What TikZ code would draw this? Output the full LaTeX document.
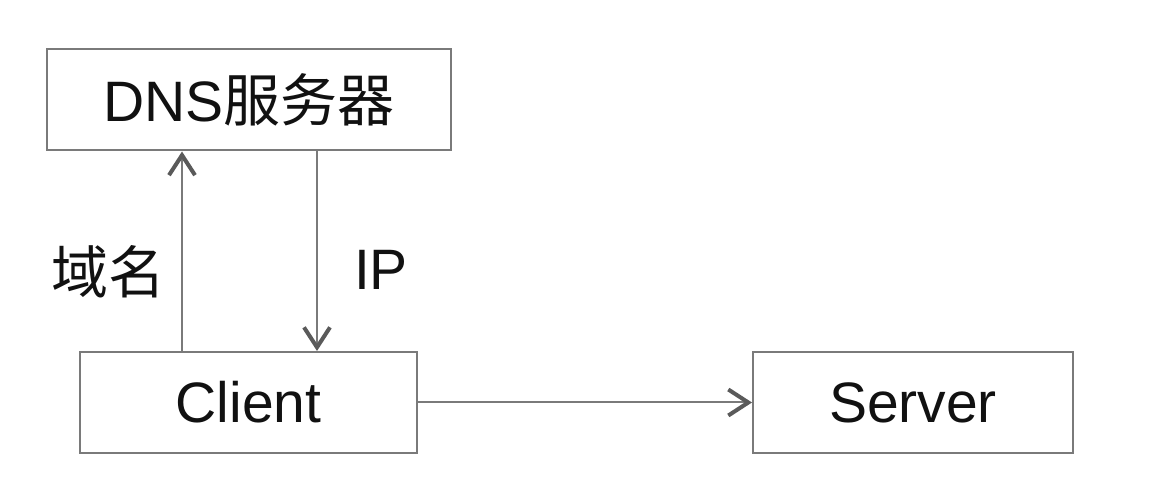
\documentclass[tikz,border=0pt]{standalone}
\usepackage{fontspec}
\setmainfont{Liberation Sans}
\newfontfamily\cjk{Noto Sans CJK SC}
\usetikzlibrary{arrows.meta}
\definecolor{linegray}{HTML}{7A7A7A}
\definecolor{tipgray}{HTML}{5A5A5A}
\definecolor{txt}{HTML}{111111}
\tikzset{
  box/.style={draw=linegray, line width=2pt, minimum height=101pt, inner sep=0pt, text=txt, font=\fontsize{57}{64}\selectfont},
  conn/.style={draw=linegray, line width=2pt, -{Straight Barb[length=20pt, width=26pt, line width=4pt, color=tipgray]}},
  lbl/.style={text=txt, font=\fontsize{57}{64}\selectfont, inner sep=0pt}
}
\begin{document}
\begin{tikzpicture}[x=1pt,y=-1pt]
\useasboundingbox (0,0) rectangle (1152,486);
\fill[white] (0,0) rectangle (1152,486);
\node[box, minimum width=404pt] (dns) at (249,100) {\raisebox{-3pt}{DNS{\cjk 服务器}}};
\node[box, minimum width=337pt] (client) at (248.5,402.5) {Client};
\node[box, minimum width=320pt] (server) at (913,402.5) {Server};
\coordinate (upx) at (182,0);
\coordinate (downx) at (317,0);
\draw[conn] (client.north -| upx) -- (dns.south -| upx);
\draw[conn] (dns.south -| downx) -- (client.north -| downx);
\draw[conn] (client.east) -- (server.west);
\node[lbl] (lname) at (108,272) {\cjk 域名};
\node[lbl] (lip) at (381,270) {IP};
\end{tikzpicture}
\end{document}
